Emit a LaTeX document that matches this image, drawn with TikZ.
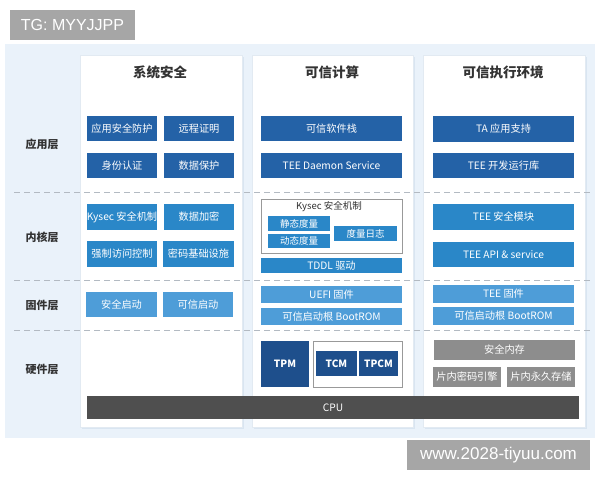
\documentclass[tikz,border=0pt]{standalone}
\usepackage{fontspec}
\setmainfont{Noto Sans CJK SC}
\newfontfamily\latfont{Liberation Sans}
\definecolor{bgblue}{HTML}{EAF2FA}
\definecolor{panelshadow}{HTML}{D9E5F1}
\definecolor{panelline}{HTML}{E2EAF2}
\definecolor{appblue}{HTML}{2462A7}
\definecolor{kernblue}{HTML}{2A87C8}
\definecolor{fwblue}{HTML}{4E9DD8}
\definecolor{navy}{HTML}{1E4F8C}
\definecolor{hwgray}{HTML}{8D8D8D}
\definecolor{cpugray}{HTML}{4F4F4F}
\definecolor{markgray}{HTML}{A6A6A6}
\definecolor{dashgray}{HTML}{B3BAC2}
\definecolor{titletext}{HTML}{333333}
\tikzset{
  box/.style={rectangle, inner sep=0pt, text=white, font=\fontsize{10.2}{12}\selectfont},
  appbox/.style={box, fill=appblue},
  kernbox/.style={box, fill=kernblue},
  fwbox/.style={box, fill=fwblue},
  navybox/.style={box, fill=navy, font=\bfseries\fontsize{10}{12}\selectfont},
  graybox/.style={box, fill=hwgray},
  smallbox/.style={box, fill=kernblue, font=\fontsize{9.5}{11}\selectfont},
  framebox/.style={rectangle, inner sep=0pt, draw=gray!80, line width=0.8pt, fill=white},
  coltitle/.style={font=\bfseries\fontsize{13.5}{15}\selectfont, text=titletext},
  layerlabel/.style={font=\bfseries\fontsize{11}{13}\selectfont, text=titletext},
  sep/.style={draw=dashgray, line width=0.8pt, dash pattern=on 6pt off 4pt},
  wmbox/.style={rectangle, inner sep=0pt, fill=markgray, text=white}
}
\begin{document}
\begin{tikzpicture}[x=1pt,y=-1pt]
\useasboundingbox (0,0) rectangle (600,480);
\fill[white] (0,0) rectangle (600,480);
% background
\fill[bgblue] (5,44) rectangle (595,438);
% panels
\foreach \xa/\xb in {80/242, 252/413, 423/585}{
  \fill[panelshadow] (\xa+1.5,56.5) rectangle (\xb+2,429);
  \filldraw[fill=white, draw=panelline, line width=0.6pt] (\xa,55) rectangle (\xb,427);
}
% separators
\coordinate (s1a) at (14,192); \coordinate (s1b) at (590,192);
\coordinate (s2a) at (14,280); \coordinate (s2b) at (590,280);
\coordinate (s3a) at (14,330); \coordinate (s3b) at (590,330);
\draw[sep] (s1a) -- (s1b);
\draw[sep] (s2a) -- (s2b);
\draw[sep] (s3a) -- (s3b);
% titles
\node[coltitle] (t1) at (160,72) {系统安全};
\node[coltitle] (t2) at (332,72) {可信计算};
\node[coltitle] (t3) at (503,72) {可信执行环境};
% layer labels
\node[layerlabel] (l1) at (42,144) {应用层};
\node[layerlabel] (l2) at (42,237) {内核层};
\node[layerlabel] (l3) at (42,305) {固件层};
\node[layerlabel] (l4) at (42,369) {硬件层};
% column 1
\node[appbox, minimum width=70pt, minimum height=25pt] (a11) at (122,128.5) {应用安全防护};
\node[appbox, minimum width=70pt, minimum height=25pt] (a12) at (199,128.5) {远程证明};
\node[appbox, minimum width=70pt, minimum height=25pt] (a13) at (122,165.5) {身份认证};
\node[appbox, minimum width=70pt, minimum height=25pt] (a14) at (199,165.5) {数据保护};
\node[kernbox, minimum width=70pt, minimum height=26pt] (k11) at (122,217) {Kysec 安全机制};
\node[kernbox, minimum width=70pt, minimum height=26pt] (k12) at (199,217) {数据加密};
\node[kernbox, minimum width=70pt, minimum height=26pt] (k13) at (122,254) {强制访问控制};
\node[kernbox, minimum width=71pt, minimum height=26pt] (k14) at (198.5,254) {密码基础设施};
\node[fwbox, minimum width=71pt, minimum height=25pt] (f11) at (121.5,304.5) {安全启动};
\node[fwbox, minimum width=70pt, minimum height=25pt] (f12) at (198,304.5) {可信启动};
% column 2
\node[appbox, minimum width=141pt, minimum height=25pt] (a21) at (331.5,128.5) {可信软件栈};
\node[appbox, minimum width=141pt, minimum height=25pt] (a22) at (331.5,165.5) {TEE Daemon Service};
\node[framebox, minimum width=141pt, minimum height=54pt] (kys) at (331.5,226) {};
\node[font=\fontsize{9.5}{11}\selectfont, text=titletext] (kyst) at (329,206.5) {Kysec 安全机制};
\node[smallbox, minimum width=62pt, minimum height=15pt] (k21) at (299,223.5) {静态度量};
\node[smallbox, minimum width=62pt, minimum height=14pt] (k22) at (299,241) {动态度量};
\node[smallbox, minimum width=63pt, minimum height=15pt] (k23) at (365.5,233.5) {度量日志};
\node[kernbox, minimum width=141pt, minimum height=15pt] (k24) at (331.5,265.5) {TDDL 驱动};
\node[fwbox, minimum width=141pt, minimum height=17pt] (f21) at (331.5,294.5) {UEFI 固件};
\node[fwbox, minimum width=141pt, minimum height=17pt] (f22) at (331.5,316.5) {可信启动根 BootROM};
\node[navybox, minimum width=48pt, minimum height=46pt] (tpm) at (285,364) {TPM};
\node[framebox, minimum width=89pt, minimum height=46pt] (tcmf) at (357.5,364) {};
\node[navybox, minimum width=41pt, minimum height=25pt] (tcm) at (336.5,363.5) {TCM};
\node[navybox, minimum width=39pt, minimum height=25pt] (tpcm) at (378.5,363.5) {TPCM};
% column 3
\node[appbox, minimum width=141pt, minimum height=26pt] (a31) at (503.5,129) {TA 应用支持};
\node[appbox, minimum width=141pt, minimum height=25pt] (a32) at (503.5,165.5) {TEE 开发运行库};
\node[kernbox, minimum width=141pt, minimum height=26pt] (k31) at (503.5,217) {TEE 安全模块};
\node[kernbox, minimum width=141pt, minimum height=25pt] (k32) at (503.5,254.5) {TEE API \& service};
\node[fwbox, minimum width=141pt, minimum height=18pt] (f31) at (503.5,294) {TEE 固件};
\node[fwbox, minimum width=141pt, minimum height=18pt] (f32) at (503.5,316) {可信启动根 BootROM};
\node[graybox, minimum width=141pt, minimum height=20pt] (h31) at (504.5,350) {安全内存};
\node[graybox, minimum width=68pt, minimum height=20pt] (h32) at (467,377) {片内密码引擎};
\node[graybox, minimum width=68pt, minimum height=20pt] (h33) at (541,377) {片内永久存储};
% CPU
\node[box, fill=cpugray, minimum width=492pt, minimum height=23pt] (cpu) at (333,407.5) {CPU};
% watermarks
\node[wmbox, minimum width=125pt, minimum height=30pt, font=\latfont\fontsize{16}{18}\selectfont] (wm1) at (72.5,25) {TG: MYYJJPP};
\node[wmbox, minimum width=183pt, minimum height=30pt, font=\latfont\fontsize{17}{19}\selectfont] (wm2) at (498.5,455) {www.2028-tiyuu.com};
\end{tikzpicture}
\end{document}
